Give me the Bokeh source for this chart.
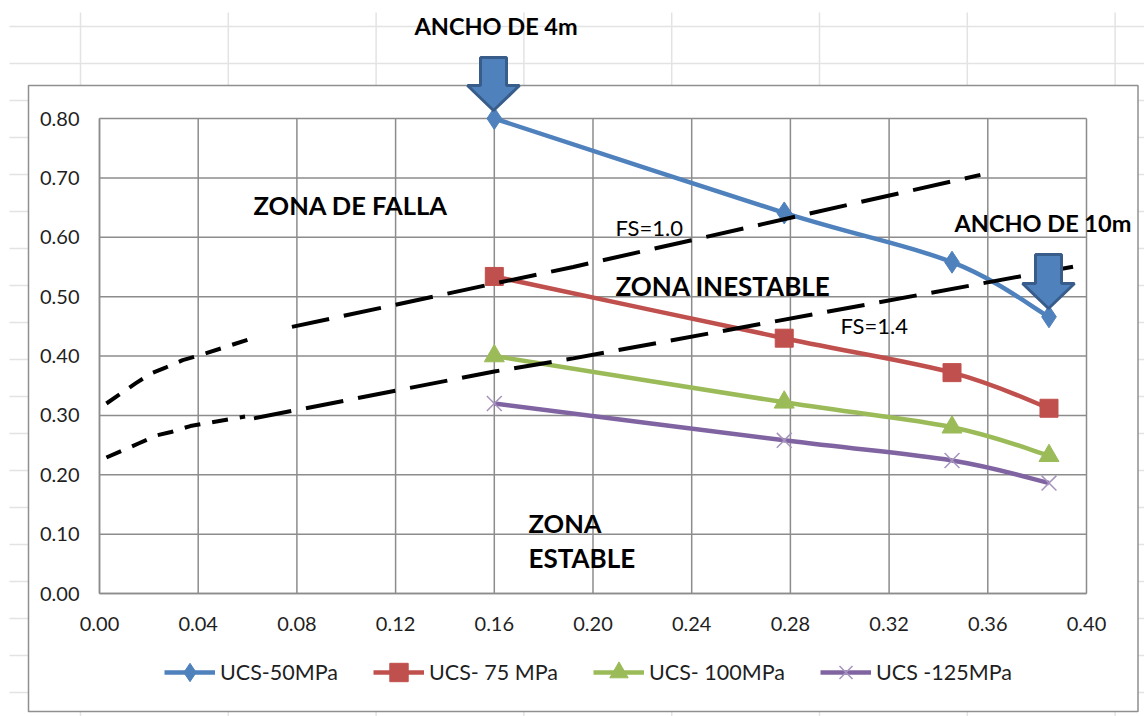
from bokeh.plotting import figure
from bokeh.embed import file_html
from bokeh.resources import INLINE
from bokeh.models import (Label, Legend, LegendItem, FixedTicker, NumeralTickFormatter)

x_vals = [0.16, 0.2775, 0.3455, 0.3848]
ucs_50 = [0.80, 0.641, 0.558, 0.466]
ucs_75 = [0.534, 0.430, 0.372, 0.312]
ucs_100 = [0.40, 0.322, 0.280, 0.232]
ucs_125 = [0.32, 0.258, 0.224, 0.186]

fs10_curve_x = [0.0028, 0.0146, 0.021, 0.027, 0.0337, 0.0405, 0.062]
fs10_curve_y = [0.320, 0.354, 0.371, 0.381, 0.393, 0.401, 0.430]
fs10_line_x = [0.078, 0.16, 0.192, 0.357]
fs10_line_y = [0.449, 0.522, 0.550, 0.705]
fs14_curve_x = [0.0028, 0.016, 0.0235, 0.029, 0.0368, 0.059]
fs14_curve_y = [0.229, 0.253, 0.2666, 0.272, 0.282, 0.298]
fs14_line_x = [0.0626, 0.16, 0.192, 0.398]
fs14_line_y = [0.295, 0.374, 0.396, 0.553]

x_ticks = [0.00, 0.04, 0.08, 0.12, 0.16, 0.20, 0.24, 0.28, 0.32, 0.36, 0.40]
y_ticks = [0.00, 0.10, 0.20, 0.30, 0.40, 0.50, 0.60, 0.70, 0.80]

series_names = ["UCS-50MPa", "UCS- 75 MPa", "UCS- 100MPa", "UCS -125MPa"]
series_colors = ["#4F81BD", "#C0504D", "#9BBB59", "#8064A2"]
series_markers = ["diamond", "square", "triangle", "x"]
series_sizes = [22, 18, 20, 21]

FONT = "Lato"
GRID = "#8C8C8C"
SHEET = "#E3E3E3"
W, H = 1144, 716

# pixel geometry of the plot area inside the canvas
L, R, T, B = 99, 1086, 118, 593

def fx(px):
    return (px - L) / (R - L) * 0.4

def fy(py):
    return (B - py) / (B - T) * 0.8

p = figure(width=W, height=H, x_range=(fx(0), fx(W)), y_range=(fy(H), fy(0)),
           output_backend="svg", toolbar_location=None,
           min_border=0, min_border_left=0, min_border_right=0,
           min_border_top=0, min_border_bottom=0)
p.background_fill_color = "white"
p.border_fill_color = "white"
p.outline_line_color = None
p.grid.visible = False

for ax, ticks, loc, bounds in ((p.xaxis[0], x_ticks, 0, (0, 0.4)), (p.yaxis[0], y_ticks, 0, (0, 0.8))):
    ax.ticker = FixedTicker(ticks=ticks)
    ax.formatter = NumeralTickFormatter(format="0.00")
    ax.fixed_location = loc
    ax.bounds = bounds
    ax.major_tick_line_color = None
    ax.minor_tick_line_color = None
    ax.axis_line_color = GRID
    ax.axis_line_width = 1.5
    ax.major_label_text_font = FONT
    ax.major_label_text_font_size = "20px"
    ax.major_label_text_color = "#1F1F1F"
p.xaxis[0].major_label_standoff = 17
p.yaxis[0].major_label_standoff = 14

# spreadsheet cell lines behind the chart
sx0, sy0, sx1, sy1 = [], [], [], []
for py in (26, 63):
    sx0.append(fx(9)); sx1.append(fx(W)); sy0.append(fy(py)); sy1.append(fy(py))
for py in range(100, 700, 37):
    sx0 += [fx(9), fx(1137)]; sx1 += [fx(28), fx(W)]
    sy0 += [fy(py), fy(py)]; sy1 += [fy(py), fy(py)]
for i in range(8):
    px = 80 + 147.8 * i
    sx0 += [fx(px), fx(px)]; sx1 += [fx(px), fx(px)]
    sy0 += [fy(12), fy(711)]; sy1 += [fy(85), fy(H)]
p.segment(sx0, sy0, sx1, sy1, line_color=SHEET, line_width=1.5)

# chart frame
p.quad(left=[fx(28)], right=[fx(1137.5)], top=[fy(85)], bottom=[fy(711)],
       fill_color="white", line_color="#8F8F8F", line_width=1.5)

# plot-area gridlines, drawn from the tick lists
p.segment(x_ticks, [0] * len(x_ticks), x_ticks, [0.8] * len(x_ticks), line_color=GRID, line_width=1.5)
p.segment([0] * len(y_ticks), y_ticks, [0.4] * len(y_ticks), y_ticks, line_color=GRID, line_width=1.5)

# smoothed series: Bezier control points derived from the values
def bezier_controls(xs, ys, k=0.17):
    sx = [x * (R - L) / 0.4 for x in xs]
    sy = [y * (B - T) / 0.8 for y in ys]
    n = len(xs)
    c0x, c0y, c1x, c1y = [], [], [], []
    for i in range(n - 1):
        a = max(i - 1, 0); d = min(i + 2, n - 1)
        c0x.append((sx[i] + k * (sx[i + 1] - sx[a])) * 0.4 / (R - L))
        c0y.append((sy[i] + k * (sy[i + 1] - sy[a])) * 0.8 / (B - T))
        c1x.append((sx[i + 1] - k * (sx[d] - sx[i])) * 0.4 / (R - L))
        c1y.append((sy[i + 1] - k * (sy[d] - sy[i])) * 0.8 / (B - T))
    return c0x, c0y, c1x, c1y

legend_items = []
for name, ys, col, mk, sz in zip(series_names, (ucs_50, ucs_75, ucs_100, ucs_125),
                                 series_colors, series_markers, series_sizes):
    c0x, c0y, c1x, c1y = bezier_controls(x_vals, ys)
    p.bezier(x0=x_vals[:-1], y0=ys[:-1], x1=x_vals[1:], y1=ys[1:],
             cx0=c0x, cy0=c0y, cx1=c1x, cy1=c1y, line_color=col, line_width=4.5)
    # a one-point line paints nothing on the chart but gives the legend its line key
    key = p.line(x_vals[:1], ys[:1], line_color=col, line_width=4.5)
    if mk == "x":
        m = p.scatter(x_vals, ys, marker=mk, size=sz, line_color="#A594BE", line_width=1.5, fill_color=None)
    else:
        m = p.scatter(x_vals, ys, marker=mk, size=sz, line_color=col, fill_color=col)
    legend_items.append(LegendItem(label=name, renderers=[key, m]))

# FS reference lines
for xs, ys, dash in ((fs10_curve_x, fs10_curve_y, "16 12"), (fs10_line_x, fs10_line_y, "38 15"),
                     (fs14_curve_x, fs14_curve_y, "16 12"), (fs14_line_x, fs14_line_y, "38 15")):
    p.line(xs, ys, line_color="black", line_width=4, line_dash=dash)

legend = Legend(items=legend_items, orientation="horizontal", location=(164, 21),
                glyph_width=51, glyph_height=46, label_standoff=5, spacing=35,
                margin=0, padding=0, border_line_color=None, background_fill_alpha=0,
                label_text_font=FONT, label_text_font_size="21.5px", label_text_color="#1F1F1F",
                label_height=20)
p.add_layout(legend)

# arrows pointing to the first and last point of the top series
def down_arrow(cx, tip_py, top_py):
    wing_py = tip_py - 25
    xs = [cx - 13, cx + 13, cx + 13, cx + 26, cx, cx - 26, cx - 13]
    ys = [top_py, top_py, wing_py, wing_py, tip_py, wing_py, wing_py]
    p.patch([fx(v) for v in xs], [fy(v) for v in ys],
            fill_color="#4F81BD", line_color="#385D8A", line_width=3)

down_arrow(493, 110, 57)
down_arrow(1048, 308, 254)

labels = [
    ("ANCHO DE 4m", 414, 25, 23.5, True),
    ("ZONA DE FALLA", 253, 204, 25.5, True),
    ("FS=1.0", 615, 227, 22, False),
    ("ANCHO DE 10m", 954, 222, 23.5, True),
    ("ZONA INESTABLE", 615, 285, 26, True),
    ("FS=1.4", 840, 325, 22, False),
    ("ZONA", 528, 522, 25.5, True),
    ("ESTABLE", 528, 557, 26, True),
]
for txt, px, py, size, bold in labels:
    p.add_layout(Label(x=fx(px), y=fy(py), text=txt, text_font=FONT,
                       text_font_size=f"{size}px", text_color="black",
                       text_font_style="bold" if bold else "normal",
                       text_align="left", text_baseline="middle"))

open("out.html", "w").write(file_html(p, INLINE))
